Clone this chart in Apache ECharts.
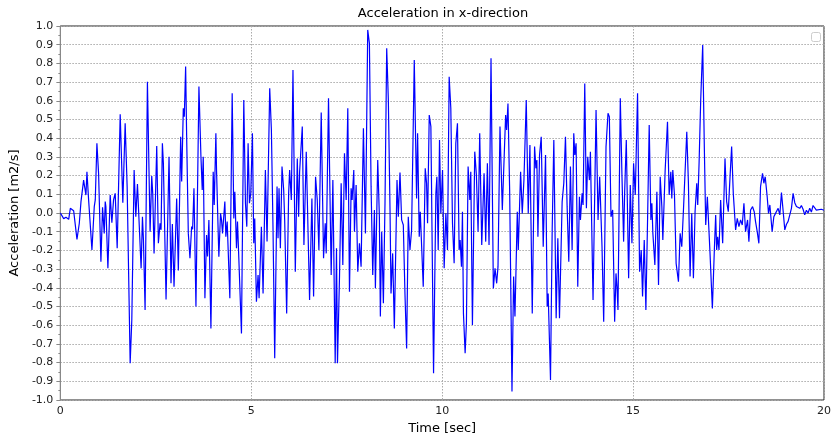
<!DOCTYPE html>
<html>
<head>
<meta charset="utf-8">
<title>Acceleration in x-direction</title>
<script src="https://cdn.jsdelivr.net/npm/echarts@6/dist/echarts.min.js"></script>
<style>
  html, body { margin: 0; padding: 0; background: #fff; }
  #chart { width: 834px; height: 441px; }
</style>
</head>
<body>
<div id="chart"></div>
<script>
// time [sec]
const timeSec = [
  0.000, 0.087, 0.148, 0.218, 0.261, 0.348, 0.392, 0.435, 0.496, 0.540, 0.566, 0.609, 0.635, 0.670, 0.696, 0.740,
  0.827, 0.888, 0.914, 0.957, 1.001, 1.062, 1.105, 1.149, 1.175, 1.192, 1.245, 1.305, 1.349, 1.393, 1.419, 1.436,
  1.488, 1.567, 1.636, 1.697, 1.749, 1.828, 1.871, 1.932, 1.976, 2.019,
  2.115, 2.150, 2.176, 2.219, 2.280, 2.350, 2.393, 2.419, 2.454, 2.524, 2.567, 2.611, 2.637, 2.672, 2.698, 2.768,
  2.846, 2.898, 2.933, 2.977, 3.046, 3.090, 3.151, 3.177, 3.220, 3.246, 3.281, 3.307, 3.351, 3.394, 3.438, 3.464,
  3.499, 3.551, 3.629, 3.681, 3.716, 3.742, 3.786, 3.829, 3.855, 3.890, 3.943, 4.003, 4.030, 4.073,
  4.090, 4.151, 4.195, 4.221, 4.247, 4.308, 4.334, 4.369, 4.395, 4.439, 4.500, 4.543, 4.569, 4.613, 4.639, 4.674,
  4.743, 4.804, 4.848, 4.883, 4.917, 4.952, 4.987, 5.030, 5.065, 5.091, 5.135, 5.178, 5.205, 5.265, 5.309, 5.370,
  5.413, 5.483, 5.527, 5.570, 5.614, 5.675, 5.701, 5.727, 5.762, 5.805, 5.849, 5.875, 5.927, 5.979, 6.005, 6.049,
  6.092, 6.153, 6.205,
  6.240, 6.266, 6.310, 6.336, 6.379, 6.440, 6.527, 6.588, 6.632, 6.684, 6.728, 6.771, 6.832, 6.893, 6.937, 6.963,
  7.023, 7.093, 7.137, 7.198, 7.232, 7.258, 7.311, 7.354, 7.398, 7.441, 7.485, 7.528, 7.572, 7.615, 7.641, 7.685,
  7.702, 7.746, 7.789, 7.833, 7.876, 7.937, 7.990, 8.050, 8.094, 8.138, 8.181, 8.225, 8.251, 8.312,
  8.355, 8.381, 8.416, 8.460, 8.503, 8.547, 8.590, 8.634, 8.660, 8.703, 8.747, 8.817, 8.851, 8.895, 8.938, 8.982,
  9.025, 9.069, 9.112, 9.156, 9.199, 9.269, 9.330, 9.356, 9.399, 9.426, 9.504, 9.556, 9.591, 9.617, 9.661, 9.704,
  9.774, 9.835, 9.861, 9.896, 9.930, 9.965, 10.009, 10.052, 10.096, 10.139, 10.183, 10.226, 10.270, 10.313, 10.357, 10.400,
  10.444, 10.470, 10.505, 10.531, 10.557, 10.601, 10.635, 10.679, 10.723, 10.749, 10.792, 10.853, 10.896, 10.940, 10.983, 11.036,
  11.097, 11.140, 11.184, 11.227, 11.279, 11.340, 11.384, 11.427, 11.462, 11.514, 11.575, 11.619, 11.662, 11.688, 11.723, 11.767,
  11.828, 11.871, 11.906, 11.967, 11.993, 12.054, 12.097, 12.141, 12.202, 12.254, 12.298, 12.359, 12.420, 12.454, 12.480,
  12.507, 12.550, 12.594, 12.646, 12.707, 12.750, 12.776, 12.837, 12.881, 12.924, 12.985, 13.029, 13.072, 13.142, 13.185, 13.229,
  13.272, 13.316, 13.359, 13.403, 13.446, 13.473, 13.507, 13.551, 13.594, 13.621, 13.664, 13.690, 13.734, 13.777, 13.812, 13.856,
  13.882, 13.951, 14.030, 14.082, 14.125, 14.186, 14.230, 14.291, 14.317, 14.343, 14.378, 14.421, 14.465, 14.517, 14.552,
  14.578, 14.604, 14.665, 14.708, 14.752, 14.778, 14.822, 14.883, 14.926, 14.970, 15.013, 15.057, 15.117, 15.170, 15.213, 15.248,
  15.292, 15.335, 15.379, 15.422, 15.466, 15.492, 15.518, 15.570, 15.623, 15.666, 15.710, 15.753, 15.779, 15.840, 15.901, 15.945,
  15.988, 16.014, 16.040, 16.084, 16.127, 16.188, 16.232, 16.275, 16.319, 16.406, 16.449, 16.493, 16.536, 16.580,
  16.623, 16.667, 16.693, 16.728, 16.771, 16.823, 16.867, 16.902, 16.945, 16.980, 17.015, 17.076, 17.128, 17.163, 17.189, 17.215,
  17.250, 17.293, 17.346, 17.407, 17.450, 17.493, 17.537, 17.581, 17.624, 17.685, 17.728, 17.772, 17.815, 17.859, 17.903, 17.946,
  17.998, 18.033, 18.077, 18.129, 18.172, 18.207, 18.251, 18.294, 18.338, 18.390, 18.425, 18.460, 18.512, 18.547, 18.582, 18.642,
  18.686, 18.730, 18.799,
  18.843, 18.886, 18.930, 18.973, 19.017, 19.060, 19.104, 19.147, 19.191, 19.234, 19.278, 19.321, 19.365, 19.408, 19.452, 19.495,
  19.539, 19.582, 19.626, 19.669, 19.713, 19.756, 19.800, 19.843, 19.930, 20.000
]

// acceleration [m2/s]
const accel = [
  0.000, -0.030, -0.023, -0.034, 0.025, 0.012, 0.007, -0.141, -0.055, 0.061, 0.059, 0.176, 0.141, 0.096, 0.221, 0.070,
  -0.198, 0.034, 0.070, 0.373, 0.212, -0.260, 0.030, -0.109, 0.061, 0.034, -0.296, 0.096, -0.052, 0.070, 0.061, 0.105,
  -0.189, 0.528, 0.055, 0.480, 0.141, -0.804, -0.572, 0.230, -0.020, 0.155,
  -0.296, -0.020, -0.144, -0.519, 0.702, -0.100, 0.198, 0.105, -0.216, 0.358, -0.162, -0.055, -0.090, 0.373, 0.266, -0.462,
  0.301, -0.376, -0.059, -0.394, 0.078, -0.308, 0.408, 0.168, 0.560, 0.515, 0.783, 0.417, -0.109, -0.242, -0.073, -0.087,
  0.132, -0.500, 0.676, 0.305, 0.123, 0.301, -0.456, -0.118, -0.233, -0.037, -0.617, 0.221, 0.043, 0.426,
  0.230, -0.234, -0.002, -0.037, -0.109, 0.061, -0.127, -0.046, -0.198, -0.456, 0.640, -0.029, 0.114, -0.189, -0.046, -0.242,
  -0.644, 0.604, 0.052, -0.073, 0.373, 0.052, 0.105, 0.426, -0.162, -0.029, -0.474, -0.332, -0.456, -0.073, -0.430, 0.230,
  -0.153, 0.667, 0.444, -0.091, -0.777, 0.141, -0.135, 0.132, -0.189, 0.248, 0.123, -0.037, -0.537, 0.105, 0.230, 0.070,
  0.765, -0.314, 0.292,
  -0.020, 0.221, 0.212, 0.462, -0.171, 0.328, -0.465, 0.078, -0.447, 0.194, 0.070, -0.198, 0.537, -0.242, -0.055, -0.216,
  0.613, -0.332, 0.176, -0.804, -0.189, -0.804, -0.340, 0.159, -0.278, 0.319, 0.070, 0.560, -0.421, 0.132, 0.070, 0.230,
  -0.100, 0.150, -0.314, -0.162, -0.287, 0.453, -0.109, 0.979, 0.907, 0.141, -0.332, 0.016, -0.403, 0.283,
  -0.020, -0.554, -0.100, -0.483, 0.061, 0.881, 0.604, 0.016, -0.430, -0.216, -0.617, 0.176, -0.020, 0.216, -0.037, -0.064,
  -0.430, -0.724, -0.020, -0.198, -0.091, 0.818, 0.078, 0.426, -0.127, 0.007, -0.394, 0.239, 0.159, -0.055, 0.524, 0.462,
  -0.857, 0.105, 0.194, -0.198, 0.390, -0.002, 0.230, -0.296, -0.002, -0.198, 0.729, 0.560, -0.055, -0.269, 0.373, 0.480,
  -0.198, -0.144, -0.287, 0.007, -0.537, -0.750, -0.590, 0.248, 0.070, 0.221, -0.599, 0.328, 0.203, -0.100, 0.426, -0.171,
  0.212, -0.153, 0.266, -0.171, 0.827, -0.403, -0.296, -0.376, -0.287, 0.462, 0.016, 0.275, 0.524, 0.444, 0.586, 0.123,
  -0.955, -0.340, -0.554, 0.007, -0.198, 0.221, -0.002, 0.176, 0.604, -0.002, 0.364, -0.537, 0.355, 0.239, 0.283,
  -0.127, 0.310, 0.408, -0.180, 0.310, -0.500, -0.430, -0.893, -0.091, 0.390, -0.563, -0.135, -0.563, 0.061, 0.159, 0.408,
  0.034, -0.260, 0.248, -0.198, 0.426, 0.310, 0.373, -0.394, 0.087, -0.037, 0.105, 0.043, 0.693, 0.025, 0.301, 0.176,
  0.328, -0.465, 0.551, -0.037, 0.194, -0.180, -0.581, 0.355, 0.346, 0.533, 0.515, -0.020, 0.016, -0.581, -0.323,
  -0.394, -0.519, 0.613, 0.203, -0.153, 0.105, 0.390, -0.349, 0.150, -0.162, 0.266, 0.096, 0.640, -0.314, -0.198, -0.447,
  -0.144, -0.519, -0.037, 0.471, -0.037, 0.052, -0.109, -0.278, 0.114, -0.385, 0.194, 0.034, -0.144, 0.230, 0.488, 0.096,
  0.221, 0.078, 0.230, 0.096, -0.269, -0.367, -0.109, -0.180, 0.016, 0.435, 0.159, -0.340, -0.002, -0.349,
  0.007, 0.159, 0.043, 0.266, 0.604, 0.898, 0.337, -0.064, 0.087, 0.087, -0.216, -0.510, -0.198, -0.011, -0.198, -0.127,
  -0.198, 0.070, -0.162, 0.292, 0.061, 0.007, 0.185, 0.355, 0.105, -0.091, -0.029, -0.073, -0.037, -0.064, 0.052, -0.100,
  -0.037, -0.153, 0.016, 0.034, 0.007, -0.046, -0.100, -0.162, 0.141, 0.212, 0.159, 0.194, 0.087, -0.002, 0.043, -0.100,
  -0.020, -0.002, 0.025,
  -0.010, 0.110, 0.010, -0.090, -0.060, -0.045, -0.010, 0.025, 0.105, 0.055, 0.035, 0.040, 0.025, 0.040, 0.020, -0.010,
  0.015, 0.000, 0.025, 0.005, 0.040, 0.030, 0.015, 0.020, 0.020, 0.015
]

const xMin = 0, xMax = 20, xStep = 5
const yMin = -1, yMax = 1, yStep = 0.1

const font = 'DejaVu Sans'
const chart = echarts.init(document.getElementById('chart'))

const seriesData = timeSec.map((t, i) => [t, accel[i]])

const option = {
  animation: false,
  backgroundColor: '#fff',
  title: {
    text: 'Acceleration in x-direction',
    left: 438,
    top: 2,
    textAlign: 'center',
    textStyle: { fontFamily: font, fontSize: 13, fontWeight: 'normal', color: '#000' }
  },
  grid: {
    left: 60,
    right: 8,
    top: 26,
    bottom: 41,
    show: true,
    borderColor: '#222',
    borderWidth: 1
  },
  xAxis: {
    type: 'value',
    min: xMin,
    max: xMax,
    interval: xStep,
    name: 'Time [sec]',
    nameLocation: 'middle',
    nameGap: 21,
    nameTextStyle: { fontFamily: font, fontSize: 13, color: '#000' },
    axisLine: { lineStyle: { color: '#888' } },
    axisTick: { length: 4, lineStyle: { color: '#888' } },
    axisLabel: { margin: 6, fontFamily: font, fontSize: 11, color: '#222' },
    splitLine: { lineStyle: { color: '#aaa', type: [1.5, 1.5] } }
  },
  yAxis: {
    type: 'value',
    min: yMin,
    max: yMax,
    interval: yStep,
    name: 'Acceleration [m2/s]',
    nameLocation: 'middle',
    nameGap: 33,
    nameTextStyle: { fontFamily: font, fontSize: 13, color: '#000' },
    axisLine: { show: true, lineStyle: { color: '#888' } },
    axisTick: { show: true, length: 4, lineStyle: { color: '#888' } },
    minorTick: { show: true, splitNumber: 2, length: 2, lineStyle: { color: '#888' } },
    axisLabel: {
      margin: 7,
      fontFamily: font,
      fontSize: 11,
      color: '#222',
      formatter: v => (Math.abs(v) < 1e-9 ? 0 : v).toFixed(1)
    },
    splitLine: { lineStyle: { color: '#aaa', type: [1.5, 1.5] } }
  },
  series: [
    {
      name: 'accel',
      type: 'line',
      data: seriesData,
      showSymbol: false,
      smooth: false,
      lineStyle: { color: '#0000ff', width: 1.2 },
      itemStyle: { color: '#0000ff' }
    }
  ],
  // empty legend box (top right), as in the original figure
  graphic: [
    {
      type: 'rect',
      shape: { x: 811.5, y: 32.5, width: 9, height: 9, r: 2 },
      style: { fill: '#fff', stroke: '#ccc', lineWidth: 1 }
    }
  ]
}

chart.setOption(option)
</script>
</body>
</html>
